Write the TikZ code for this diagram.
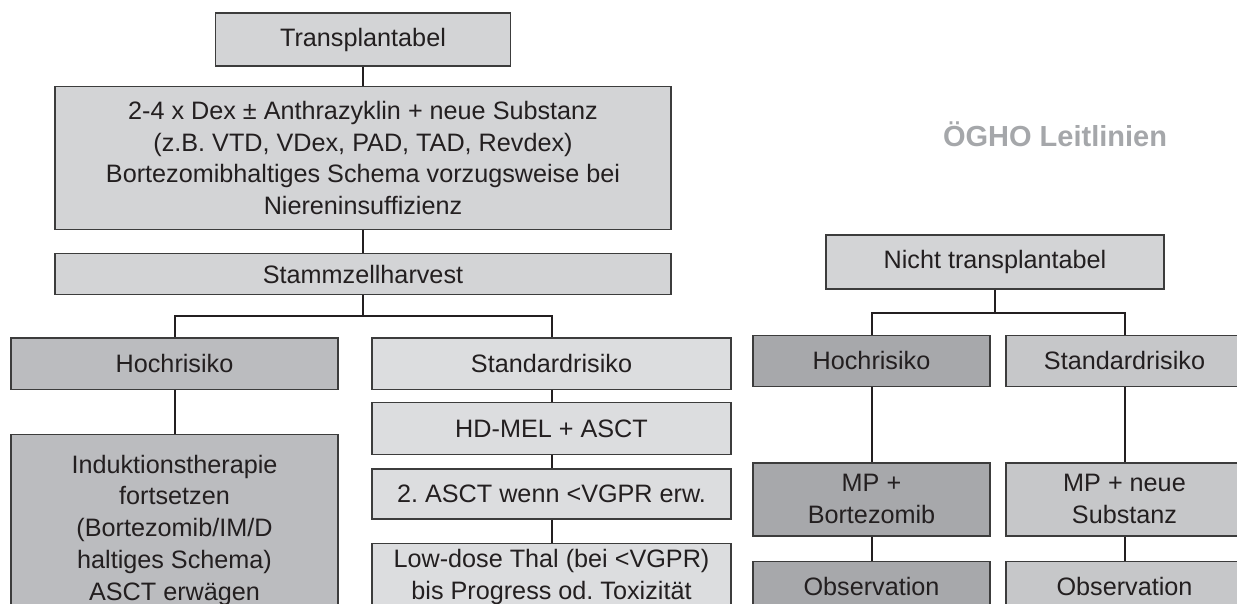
\documentclass[tikz,border=0pt]{standalone}
\usepackage{fontspec}
\setmainfont{Liberation Sans}
\usetikzlibrary{positioning}
\frenchspacing

\definecolor{boxline}{HTML}{3C3C3C}
\definecolor{linkline}{HTML}{231F20}
\definecolor{textgray}{HTML}{231F20}
\definecolor{topgray}{HTML}{D3D4D6}
\definecolor{hochgray}{HTML}{BBBCBF}
\definecolor{stdgray}{HTML}{DCDDDF}
\definecolor{hochdark}{HTML}{A7A8AB}
\definecolor{stdmid}{HTML}{C6C7C9}
\definecolor{titlegray}{HTML}{A5A7AA}

\tikzset{
  box/.style={draw=boxline, line width=0.7pt, inner sep=0pt, align=center,
    text=textgray, font=\fontsize{12.6}{15.85}\selectfont},
  link/.style={draw=linkline, line width=1pt},
}

\begin{document}
\begin{tikzpicture}[]
    \useasboundingbox (0,0) rectangle (618.5pt,-302pt);

    % transplantabel branch
    \node [box, fill=topgray, minimum width=147.5pt, minimum height=26.5pt] (trans) at (181.5pt,-19.75pt) {Transplantabel};
    \node [box, fill=topgray, below=9.5pt of trans, minimum width=308pt, minimum height=71.5pt] (induc) {2-4 x Dex ± Anthrazyklin + neue Substanz\\(z.B. VTD, VDex, PAD, TAD, Revdex)\\Bortezomibhaltiges Schema vorzugsweise bei\\Niereninsuffizienz};
    \node [box, fill=topgray, below=11.5pt of induc, minimum width=308pt, minimum height=20.5pt] (harvest) {Stammzellharvest};
    \coordinate [below=10.5pt of harvest] (fork);

    \node [box, fill=hochgray, below=21pt of harvest, xshift=-94.25pt, minimum width=163.5pt, minimum height=25.5pt] (hochT) {Hochrisiko};
    \node [box, fill=hochgray, below=22pt of hochT, minimum width=163.5pt, minimum height=95.5pt] (weiter) {Induktionstherapie\\fortsetzen\\(Bortezomib/IM/D\\haltiges Schema)\\ASCT erwägen};

    \node [box, fill=stdgray, below=21pt of harvest, xshift=94.25pt, minimum width=179.5pt, minimum height=25.5pt] (stdT) {Standardrisiko};
    \node [box, fill=stdgray, below=6pt of stdT, minimum width=179.5pt, minimum height=26pt] (hdmel) {HD-MEL + ASCT};
    \node [box, fill=stdgray, below=6.5pt of hdmel, minimum width=179.5pt, minimum height=25pt] (asct) {2. ASCT wenn <VGPR erw.};
    \node [box, fill=stdgray, below=11.5pt of asct, minimum width=179.5pt, minimum height=33.5pt] (thal) {Low-dose Thal (bei <VGPR)\\bis Progress od. Toxizität};

    % nicht transplantabel branch
    \node [text=titlegray, font=\fontsize{14.5}{17}\selectfont\bfseries] (title) at (527.5pt,-67pt) {ÖGHO Leitlinien};
    \node [box, fill=topgray, minimum width=169pt, minimum height=27pt] (nicht) at (497.5pt,-131pt) {Nicht transplantabel};
    \coordinate [below=11.5pt of nicht] (forkN);

    \node [box, fill=hochdark, below=22.5pt of nicht, xshift=-61.75pt, minimum width=118.5pt, minimum height=25.5pt] (hochN) {Hochrisiko};
    \node [box, fill=hochdark, below=37.5pt of hochN, minimum width=118.5pt, minimum height=36.5pt] (mpb) {MP +\\Bortezomib};
    \node [box, fill=hochdark, below=12pt of mpb, minimum width=118.5pt, minimum height=25.5pt] (obsH) {Observation};

    \node [box, fill=stdmid, below=22.5pt of nicht, xshift=64.75pt, minimum width=118.5pt, minimum height=25.5pt] (stdN) {Standardrisiko};
    \node [box, fill=stdmid, below=37.5pt of stdN, minimum width=118.5pt, minimum height=36.5pt] (mpn) {MP + neue\\Substanz};
    \node [box, fill=stdmid, below=12pt of mpn, minimum width=118.5pt, minimum height=25.5pt] (obsS) {Observation};

    \draw [link] (trans) -- (induc);
    \draw [link] (induc) -- (harvest);
    \draw [link] (harvest) -- (fork) -| (hochT);
    \draw [link] (fork) -| (stdT);
    \draw [link] (hochT) -- (weiter);
    \draw [link] (stdT) -- (hdmel);
    \draw [link] (hdmel) -- (asct);
    \draw [link] (asct) -- (thal);

    \draw [link] (nicht) -- (forkN) -| (hochN);
    \draw [link] (forkN) -| (stdN);
    \draw [link] (hochN) -- (mpb);
    \draw [link] (mpb) -- (obsH);
    \draw [link] (stdN) -- (mpn);
    \draw [link] (mpn) -- (obsS);
\end{tikzpicture}
\end{document}
